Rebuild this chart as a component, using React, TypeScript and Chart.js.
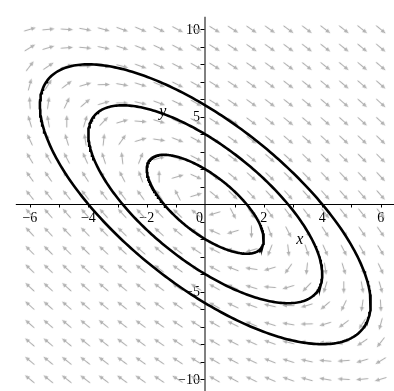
import { useEffect, useRef } from "react";
import { Chart, registerables } from "chart.js";

Chart.register(...registerables);

// Arrow grid of the direction field (20 x 20)
const gridX = [
  -6, -5.368, -4.737, -4.105, -3.474, -2.842, -2.211, -1.579, -0.947, -0.316,
  0.316, 0.947, 1.579, 2.211, 2.842, 3.474, 4.105, 4.737, 5.368, 6,
];
const gridY = [
  -10, -8.947, -7.895, -6.842, -5.789, -4.737, -3.684, -2.632, -1.579, -0.526,
  0.526, 1.579, 2.632, 3.684, 4.737, 5.789, 6.842, 7.895, 8.947, 10,
];

// Initial points of the three solution curves
const orbitStartX = [0, 0, 4];
const orbitStartY = [2, 4, 0];

// Axis ticks and labels
const xTickValues = [-6, -5, -4, -3, -2, -1, 1, 2, 3, 4, 5, 6];
const xLabelValues = [-6, -4, -2, 0, 2, 4, 6];
const xLabelTexts = ["\u22126", "\u22124", "\u22122", "0", "2", "4", "6"];
const yTickValues = [-10, -9, -8, -7, -6, -5, -4, -3, -2, -1, 1, 2, 3, 4, 5, 6, 7, 8, 9, 10];
const yLabelValues = [-10, -5, 5, 10];
const yLabelTexts = ["\u221210", "\u22125", "5", "10"];

// Visible window and axis line extents
const X_MIN = -6.85;
const X_MAX = 6.283;
const Y_MIN = -10.39;
const Y_MAX = 11.393;
const X_AXIS_FROM = -6.48;
const Y_AXIS_TOP = 10.72;

// Linear system  x' = x + y,  y' = -2x - y
function field(x: number, y: number): [number, number] {
  return [x + y, -2 * x - y];
}

function traceOrbit(x0: number, y0: number) {
  const pts: { x: number; y: number }[] = [{ x: x0, y: y0 }];
  let x = x0;
  let y = y0;
  const h = 0.02;
  const steps = Math.ceil((2 * Math.PI) / h) + 2;
  for (let i = 0; i < steps; i++) {
    const [k1x, k1y] = field(x, y);
    const [k2x, k2y] = field(x + (h / 2) * k1x, y + (h / 2) * k1y);
    const [k3x, k3y] = field(x + (h / 2) * k2x, y + (h / 2) * k2y);
    const [k4x, k4y] = field(x + h * k3x, y + h * k3y);
    x += (h / 6) * (k1x + 2 * k2x + 2 * k3x + k4x);
    y += (h / 6) * (k1y + 2 * k2y + 2 * k3y + k4y);
    pts.push({ x, y });
  }
  return pts;
}

function makeArrow(): HTMLCanvasElement {
  const c = document.createElement("canvas");
  c.width = 13;
  c.height = 7;
  const g = c.getContext("2d")!;
  g.strokeStyle = "#b0b0b0";
  g.fillStyle = "#b0b0b0";
  g.lineWidth = 1.1;
  g.beginPath();
  g.moveTo(0.5, 3.5);
  g.lineTo(9, 3.5);
  g.stroke();
  g.beginPath();
  g.moveTo(12.8, 3.5);
  g.lineTo(8, 1.4);
  g.lineTo(8, 5.6);
  g.closePath();
  g.fill();
  return c;
}

const axesPlugin = {
  id: "originAxes",
  beforeDatasetsDraw(chart: any) {
    const { ctx } = chart;
    const xs = chart.scales.x;
    const ys = chart.scales.y;
    const px0 = Math.round(xs.getPixelForValue(0));
    const py0 = Math.round(ys.getPixelForValue(0)) + 0.5;
    ctx.save();
    ctx.strokeStyle = "#000";
    ctx.lineWidth = 1;
    ctx.beginPath();
    ctx.moveTo(xs.getPixelForValue(X_AXIS_FROM), py0);
    ctx.lineTo(chart.width, py0);
    ctx.moveTo(px0, ys.getPixelForValue(Y_AXIS_TOP));
    ctx.lineTo(px0, chart.height);
    ctx.stroke();

    ctx.beginPath();
    for (const v of xTickValues) {
      const p = Math.round(xs.getPixelForValue(v)) + 0.5;
      ctx.moveTo(p, py0);
      ctx.lineTo(p, py0 + 3);
    }
    for (const v of yTickValues) {
      const p = Math.round(ys.getPixelForValue(v)) + 0.5;
      ctx.moveTo(px0 - 0.5, p);
      ctx.lineTo(px0 - 4.5, p);
    }
    ctx.stroke();

    ctx.fillStyle = "#000";
    ctx.font = '14px "Liberation Serif", "Times New Roman", serif';
    ctx.textBaseline = "middle";
    xLabelValues.forEach((v, i) => {
      const p = xs.getPixelForValue(v);
      if (v === 0) {
        ctx.textAlign = "right";
        ctx.fillText(xLabelTexts[i], px0 - 2, py0 + 14);
      } else {
        ctx.textAlign = "center";
        ctx.fillText(xLabelTexts[i], p, py0 + 14);
      }
    });
    ctx.textAlign = "right";
    yLabelValues.forEach((v, i) => {
      ctx.fillText(yLabelTexts[i], px0 - 5, ys.getPixelForValue(v) + 1);
    });
    ctx.restore();
  },
  afterDatasetsDraw(chart: any) {
    const { ctx } = chart;
    const xs = chart.scales.x;
    const ys = chart.scales.y;
    ctx.save();
    ctx.fillStyle = "#000";
    ctx.font = 'italic 16px "Liberation Serif", "Times New Roman", serif';
    ctx.textAlign = "center";
    ctx.textBaseline = "middle";
    ctx.fillText("y", xs.getPixelForValue(-1.45), ys.getPixelForValue(5.26));
    ctx.fillText("x", xs.getPixelForValue(3.23), ys.getPixelForValue(-2.03));
    ctx.restore();
  },
};

export default function App() {
  const ref = useRef<HTMLCanvasElement | null>(null);

  useEffect(() => {
    if (!ref.current) return;
    const arrow = makeArrow();
    const gridPoints: { x: number; y: number }[] = [];
    for (const gy of gridY) for (const gx of gridX) gridPoints.push({ x: gx, y: gy });

    const curves = orbitStartX.map((x0, i) => ({
      type: "scatter" as const,
      data: traceOrbit(x0, orbitStartY[i]),
      showLine: true,
      borderColor: "#000",
      borderWidth: 2.6,
      pointRadius: 0,
      tension: 0,
    }));

    const chart = new Chart(ref.current, {
      type: "scatter",
      data: {
        datasets: [
          ...curves,
          {
            type: "scatter" as const,
            data: gridPoints,
            pointStyle: arrow as any,
            pointRadius: 3,
            pointRotation: (c: any) => {
              const p = c.raw as { x: number; y: number };
              if (!p) return 0;
              const xs = c.chart.scales.x;
              const ys = c.chart.scales.y;
              const sx = Math.abs(xs.getPixelForValue(1) - xs.getPixelForValue(0));
              const sy = Math.abs(ys.getPixelForValue(1) - ys.getPixelForValue(0));
              const [vx, vy] = field(p.x, p.y);
              return (Math.atan2(-vy * sy, vx * sx) * 180) / Math.PI;
            },
          } as any,
        ],
      },
      options: {
        responsive: false,
        animation: false,
        events: [],
        layout: { padding: 0 },
        plugins: { legend: { display: false }, tooltip: { enabled: false } },
        scales: {
          x: { type: "linear", min: X_MIN, max: X_MAX, display: false },
          y: { type: "linear", min: Y_MIN, max: Y_MAX, display: false },
        },
      },
      plugins: [axesPlugin],
    });
    return () => chart.destroy();
  }, []);

  return (
    <div style={{ position: "absolute", left: 0, top: 0, width: 394, height: 391, background: "#fff" }}>
      <canvas ref={ref} width={394} height={391} style={{ display: "block" }} />
    </div>
  );
}
